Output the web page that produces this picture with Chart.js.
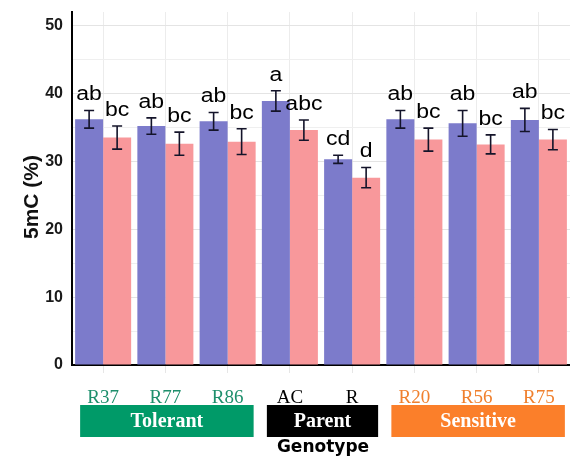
<!DOCTYPE html>
<html>
<head>
<meta charset="utf-8">
<script src="https://cdn.jsdelivr.net/npm/chart.js@4/dist/chart.umd.min.js"></script>
<style>
  html, body { margin: 0; padding: 0; background: #fff; }
  #wrap { width: 570px; height: 459px; position: relative; }
</style>
</head>
<body>
<div id="wrap"><canvas id="chart"></canvas></div>
<script>
'use strict';

// genotypes on the x axis
var categories = ['R37', 'R77', 'R86', 'AC', 'R', 'R20', 'R56', 'R75'];

// two series per genotype (blue / pink), means and error half-widths
var blueValues = [36.2, 35.2, 35.9, 38.9, 30.3, 36.2, 35.6, 36.1];
var blueErrors = [1.3, 1.2, 1.3, 1.5, 0.6, 1.3, 1.9, 1.7];
var pinkValues = [33.5, 32.6, 32.9, 34.6, 27.6, 33.2, 32.5, 33.2];
var pinkErrors = [1.7, 1.7, 1.9, 1.5, 1.5, 1.7, 1.4, 1.5];

// significance letters
var blueLetters = ['ab', 'ab', 'ab', 'a', 'cd', 'ab', 'ab', 'ab'];
var pinkLetters = ['bc', 'bc', 'bc', 'abc', 'd', 'bc', 'bc', 'bc'];

// y ticks (labels every 10, minor grid every 5)
var yTickValues = [0, 5, 10, 15, 20, 25, 30, 35, 40, 45, 50];
var yMax = 52;

// genotype groups under the axis
var groupNames = ['Tolerant', 'Parent', 'Sensitive'];
var groupStart = [0, 3, 5];
var groupEnd = [2, 4, 7];
var groupColors = ['#009a68', '#000000', '#fb7f2a'];
var tickColors = ['#1e8f6c', '#1e8f6c', '#1e8f6c', '#000000', '#000000', '#f0802e', '#f0802e', '#f0802e'];

var extrasPlugin = {
    id: 'extras',
    afterDatasetsDraw: function(chart) {
        var ctx = chart.ctx;
        var y = chart.scales.y;
        var errs = [blueErrors, pinkErrors];
        var letters = [blueLetters, pinkLetters];
        ctx.save();
        chart.data.datasets.forEach(function(ds, di) {
            var meta = chart.getDatasetMeta(di);
            meta.data.forEach(function(bar, i) {
                var v = ds.data[i];
                var hi = y.getPixelForValue(v + errs[di][i]);
                var lo = y.getPixelForValue(v - errs[di][i]);
                var x = bar.x;
                ctx.strokeStyle = '#14142a';
                ctx.lineWidth = 1.6;
                ctx.beginPath();
                ctx.moveTo(x, hi); ctx.lineTo(x, lo);
                ctx.moveTo(x - 5, hi); ctx.lineTo(x + 5, hi);
                ctx.moveTo(x - 5, lo); ctx.lineTo(x + 5, lo);
                ctx.stroke();

                ctx.save();
                ctx.translate(x, hi - 10);
                ctx.scale(1.15, 1);
                ctx.fillStyle = '#000';
                ctx.font = '20px "Liberation Sans", Arial, sans-serif';
                ctx.textAlign = 'center';
                ctx.textBaseline = 'alphabetic';
                ctx.fillText(letters[di][i], 0, 0);
                ctx.restore();
            });
        });
        ctx.restore();
    },
    afterDraw: function(chart) {
        var ctx = chart.ctx;
        var xs = chart.scales.x;
        ctx.save();
        // group boxes
        for (var g = 0; g < groupNames.length; g++) {
            var left = xs.getPixelForValue(groupStart[g]) - 23;
            var right = xs.getPixelForValue(groupEnd[g]) + 26;
            ctx.fillStyle = groupColors[g];
            ctx.fillRect(left, 405, right - left, 32);
            ctx.fillStyle = '#fff';
            ctx.font = 'bold 20px "Liberation Serif", "Times New Roman", serif';
            ctx.textAlign = 'center';
            ctx.textBaseline = 'alphabetic';
            ctx.fillText(groupNames[g], (left + right) / 2, 427);
        }
        // x title
        ctx.fillStyle = '#000';
        ctx.font = 'bold 17px "DejaVu Sans", sans-serif';
        ctx.textAlign = 'center';
        ctx.textBaseline = 'middle';
        ctx.fillText('Genotype', 323, 448);
        // y title
        ctx.translate(38, 197);
        ctx.rotate(-Math.PI / 2);
        ctx.font = 'bold 21px "Liberation Sans", Arial, sans-serif';
        ctx.fillStyle = '#111';
        ctx.textBaseline = 'alphabetic';
        ctx.fillText('5mC (%)', 0, 0);
        ctx.restore();
    }
};

var ctx = document.getElementById('chart').getContext('2d');
new Chart(ctx, {
    type: 'bar',
    data: {
        labels: categories,
        datasets: [{
            data: blueValues,
            backgroundColor: '#7c7bcb',
            borderWidth: 0,
            categoryPercentage: 0.9,
            barPercentage: 1.0
        }, {
            data: pinkValues,
            backgroundColor: '#f8989b',
            borderWidth: 0,
            categoryPercentage: 0.9,
            barPercentage: 1.0
        }]
    },
    options: {
        responsive: true,
        maintainAspectRatio: false,
        animation: false,
        layout: { padding: { top: 12, right: 0, left: 0, bottom: 0 } },
        plugins: {
            legend: { display: false },
            tooltip: { enabled: false }
        },
        scales: {
            x: {
                grid: {
                    offset: false,
                    color: '#ececec',
                    tickLength: 8,
                    tickColor: '#e6e6e6'
                },
                border: { color: '#000', width: 2 },
                ticks: {
                    padding: 14,
                    color: tickColors,
                    font: { family: '"Liberation Serif", "Times New Roman", serif', size: 19 }
                },
                afterFit: function(scale) {
                    scale.height = 94;
                    scale.paddingLeft = 0;
                    scale.paddingRight = 0;
                }
            },
            y: {
                min: 0,
                max: yMax,
                grid: {
                    drawTicks: false,
                    color: function(c) {
                        var v = c.tick.value;
                        if (v % 10 === 0) return '#e4e4e4';
                        if (v % 5 === 0) return '#efefef';
                        return 'rgba(0,0,0,0)';
                    }
                },
                border: { color: '#000', width: 2 },
                ticks: {
                    padding: 9,
                    color: '#1a1a1a',
                    font: { family: '"Liberation Sans", Arial, sans-serif', size: 16, weight: 'bold' },
                    callback: function(v) { return v % 10 === 0 ? v : ''; }
                },
                afterBuildTicks: function(scale) {
                    scale.ticks = yTickValues.map(function(v) { return { value: v }; });
                },
                afterFit: function(scale) {
                    scale.width = 72;
                    scale.paddingTop = 0;
                    scale.paddingBottom = 0;
                }
            }
        }
    },
    plugins: [extrasPlugin]
});
</script>
</body>
</html>
